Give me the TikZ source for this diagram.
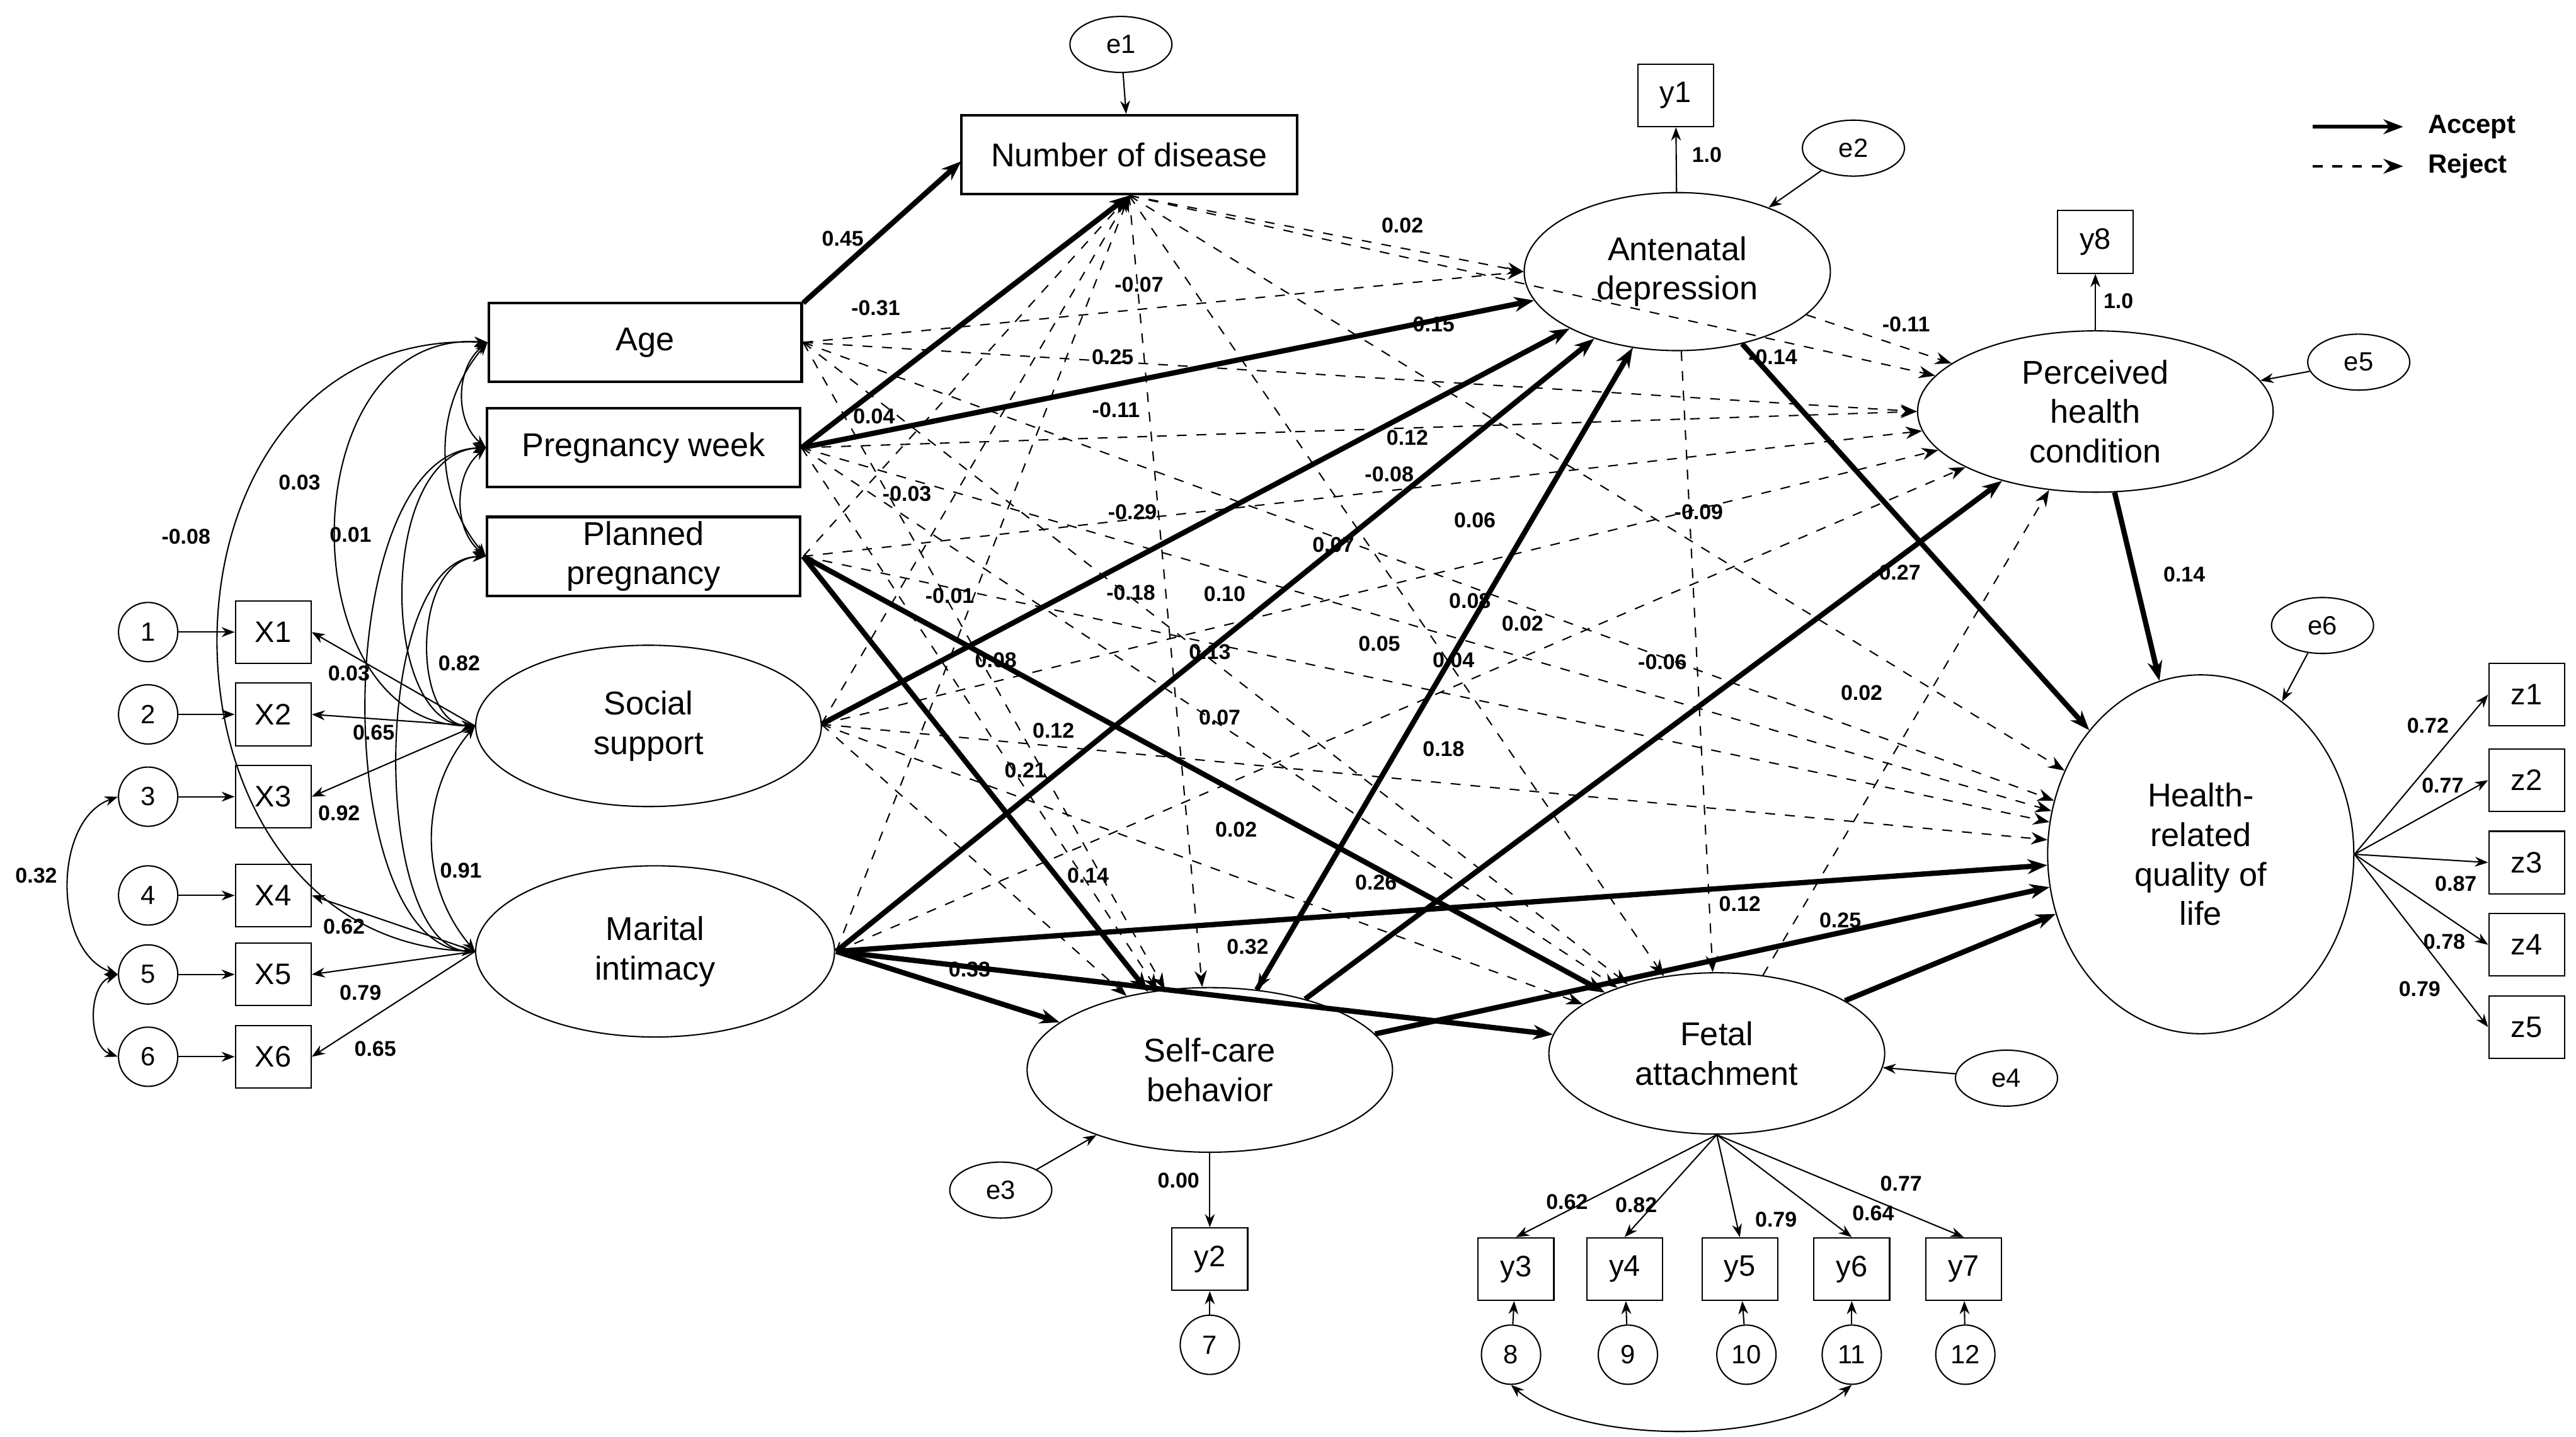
\documentclass[tikz,border=0pt]{standalone}
\usepackage{fontspec}
\setmainfont{Liberation Sans}
\usetikzlibrary{shapes.geometric,arrows.meta}
\begin{document}
\begin{tikzpicture}[x=0.5pt,y=-0.5pt,
 box/.style={draw,thick,minimum width=#1,minimum height=24pt,inner sep=1pt,font=\fontsize{10}{11}\selectfont},
 box/.default=95pt,
 ind/.style={draw,minimum width=23pt,minimum height=19pt,inner sep=0pt,font=\fontsize{9}{10}\selectfont},
 lat/.style={draw,ellipse,inner sep=0pt,align=center,font=\fontsize{10}{12}\selectfont},
 err/.style={draw,ellipse,minimum width=31pt,minimum height=17pt,inner sep=0pt,font=\fontsize{8}{9}\selectfont},
 cir/.style={draw,circle,minimum size=18pt,inner sep=0pt,font=\fontsize{8}{9}\selectfont},
 acc/.style={-{Stealth[length=6pt]},line width=1.6pt},
 rej/.style={-{Stealth[length=5pt]},dashed,thin},
 th/.style={-{Stealth[length=4pt]},thin},
 cor/.style={{Stealth[length=4pt]}-{Stealth[length=4pt]},thin},
 lb/.style={font=\bfseries\fontsize{6.5}{7}\selectfont,inner sep=0.5pt}]
\useasboundingbox (0,0) rectangle (1565,873);
% main nodes
\node[box=102pt] (nd) at (686,94) {Number of disease};
\node[box] (age) at (392,208) {Age};
\node[box] (pw) at (391,272) {Pregnancy week};
\node[box,align=center,font=\fontsize{10}{12}\selectfont] (pp) at (391,338) {Planned\\pregnancy};
\node[lat,minimum width=105pt,minimum height=49pt] (ss) at (394,441) {Social\\support};
\node[lat,minimum width=109pt,minimum height=52pt] (mi) at (398,578) {Marital\\intimacy};
\node[lat,minimum width=93pt,minimum height=48pt] (ad) at (1019,165) {Antenatal\\depression};
\node[lat,minimum width=108pt,minimum height=49pt] (ph) at (1273,250) {Perceived\\health\\condition};
\node[lat,minimum width=93pt,minimum height=109pt] (hq) at (1337,519) {Health-\\related\\quality of\\life};
\node[lat,minimum width=111pt,minimum height=50pt] (sc) at (735,650) {Self-care\\behavior};
\node[lat,minimum width=102pt,minimum height=49pt] (fa) at (1043,640) {Fetal\\attachment};
% errors
\node[err] (e1) at (681,27) {e1};
\node[err] (e2) at (1126,90) {e2};
\node[err] (e3) at (608,723) {e3};
\node[err] (e4) at (1219,655) {e4};
\node[err] (e5) at (1433,220) {e5};
\node[err] (e6) at (1411,380) {e6};
\draw[th] (e1) -- (nd);
\draw[th] (e2) -- (ad);
\draw[th] (e3) -- (sc);
\draw[th] (e4) -- (fa);
\draw[th] (e5) -- (ph);
\draw[th] (e6) -- (hq);
% indicators
\node[ind] (y1) at (1018,58) {y1};
\node[ind] (y8) at (1273,147) {y8};
\node[ind] (y2) at (735,765) {y2};
\node[cir] (c7) at (735,817) {7};
\draw[th] (ad) -- (y1); \node[lb] (l10a) at (1037,94) {1.0};
\draw[th] (ph) -- (y8); \node[lb] (l10b) at (1287,183) {1.0};
\draw[th] (sc) -- (y2); \node[lb] (l00) at (716,717) {0.00};
\draw[th] (c7) -- (y2);
\foreach \i/\y in {1/422,2/474,3/524,4/574,5/624}{
 \node[ind] (z\i) at (1535,\y) {z\i};
 \draw[th] (hq.east) -- (z\i.west);}
\node[lb] at (1475,441) {0.72};\node[lb] at (1484,477) {0.77};\node[lb] at (1492,537) {0.87};
\node[lb] at (1485,572) {0.78};\node[lb] at (1470,601) {0.79};
\foreach \i/\x/\cx/\n in {3/921/918/8,4/987/989/9,5/1057/1061/10,6/1125/1125/11,7/1193/1194/12}{
 \node[ind] (y\i) at (\x,771) {y\i};
 \draw[th] (fa.south) -- (y\i.north);
 \node[cir] (c\n) at (\cx,823) {\n};
 \draw[th] (c\n) -- (y\i);}
\draw[cor] (c8.south) .. controls (960,878) and (1080,878) .. (c11.south);
\node[lb] at (952,730) {0.62};\node[lb] at (994,732) {0.82};\node[lb] at (1079,741) {0.79};
\node[lb] at (1138,737) {0.64};\node[lb] at (1155,719) {0.77};
\foreach \i/\y in {1/384,2/434,3/484,4/544,5/592,6/642}{
 \node[ind] (x\i) at (166,\y) {X\i};
 \node[cir] (k\i) at (90,\y) {\i};
 \draw[th] (k\i) -- (x\i);}
\foreach \i in {1,2,3}{\draw[th] (ss.west) -- (x\i.east);}
\foreach \i in {4,5,6}{\draw[th] (mi.west) -- (x\i.east);}
\draw[cor] (k3.west) to[out=200,in=160] (k5.west);
\draw[cor] (k5.west) to[out=200,in=160] (k6.west);
\node[lb] at (22,532) {0.32};
\node[lb] at (212,409) {0.03};\node[lb] at (227,445) {0.65};\node[lb] at (206,494) {0.92};
\node[lb] at (209,563) {0.62};\node[lb] at (219,603) {0.79};\node[lb] at (228,637) {0.65};
% exogenous correlations
\draw[cor] (age.west) to[bend right=50] (pw.west);
\draw[cor] (pw.west) to[bend right=50] (pp.west);
\draw[cor] (age.west) to[bend right=40] (pp.west);
\draw[cor] (age.west) .. controls (175,200) and (175,440) .. (ss.west);
\draw[cor] (age.west) .. controls (80,200) and (80,570) .. (mi.west);
\draw[cor] (pw.west) .. controls (230,275) and (230,440) .. (ss.west);
\draw[cor] (pw.west) .. controls (200,275) and (200,575) .. (mi.west);
\draw[cor] (pp.west) .. controls (250,340) and (250,440) .. (ss.west);
\draw[cor] (pp.west) .. controls (225,340) and (225,575) .. (mi.west);
\draw[cor] (ss.west) to[bend right=40] (mi.west);
\node[lb] at (182,293) {0.03};\node[lb] at (113,326) {-0.08};\node[lb] at (213,325) {0.01};
\node[lb] at (279,403) {0.82};\node[lb] at (280,529) {0.91};
% structural paths
\coordinate (ae) at (488,208); \coordinate (pwe) at (487,272); \coordinate (ppe) at (488,338);
\coordinate (sse) at (499,440); \coordinate (mie) at (508,578);
\coordinate (aet) at (488,184); \coordinate (ndw) at (584,98);
\draw[acc] (aet) -- (ndw);
\draw[rej] (ae) -- (ad.west);
\draw[rej] (ae) -- (ph.west);
\draw[rej] (ae) -- (hq);
\draw[rej] (ae) -- (sc);
\draw[rej] (ae) -- (fa);
\draw[acc] (pwe) -- (nd.south);
\draw[acc] (pwe) -- (ad);
\draw[rej] (pwe) -- (ph.west);
\draw[rej] (pwe) -- (hq);
\draw[rej] (pwe) -- (sc);
\draw[rej] (pwe) -- (fa);
\draw[rej] (ppe) -- (nd.south);
\draw[rej] (ppe) -- (ph);
\draw[rej] (ppe) -- (hq);
\draw[acc] (ppe) -- (sc);
\draw[acc] (ppe) -- (fa);
\draw[rej] (sse) -- (nd.south);
\draw[acc] (sse) -- (ad);
\draw[rej] (sse) -- (ph);
\draw[rej] (sse) -- (hq);
\draw[rej] (sse) -- (sc);
\draw[rej] (sse) -- (fa);
\draw[rej] (mie) -- (nd.south);
\draw[acc] (mie) -- (ad);
\draw[rej] (mie) -- (ph);
\draw[acc] (mie) -- (hq);
\draw[acc] (mie) -- (sc);
\draw[acc] (mie) -- (fa);
\draw[rej] (nd.south) -- (ad.west);
\draw[rej] (nd.south) -- (ph);
\draw[rej] (nd.south) -- (hq);
\draw[rej] (nd.south) -- (sc);
\draw[rej] (nd.south) -- (fa);
\draw[rej] (ad) -- (ph);
\draw[acc] (ad) -- (hq);
\draw[rej] (ad) -- (sc);
\draw[rej] (ad) -- (fa);
\draw[acc] (sc) -- (ad);
\draw[acc] (sc) -- (ph);
\draw[acc] (sc) -- (hq);
\draw[acc] (fa) -- (hq);
\draw[rej] (fa) -- (ph);
\draw[acc] (ph) -- (hq);
% path labels
\foreach \t/\x/\y in {0.45/512/145,-0.31/532/187,0.02/852/137,-0.07/692/173,0.15/871/197,0.25/676/217,0.04/531/253,-0.11/678/249,0.12/855/266,-0.08/844/288,-0.03/551/300,-0.29/688/311,0.06/896/316,0.07/810/331,-0.09/1032/311,-0.27/1152/348,-0.01/577/362,-0.18/687/360,0.10/744/361,0.08/893/365,0.02/925/379,0.05/838/391,0.04/883/401,0.08/605/401,0.13/735/396,-0.06/1010/402,0.02/1131/421,0.07/741/436,0.12/640/444,0.18/877/455,0.21/623/468,0.02/751/504,0.14/661/532,0.26/836/536,0.12/1057/549,0.25/1118/559,0.33/589/589,0.32/758/575,-0.14/1077/217,-0.11/1158/197,0.14/1327/349}
 {\node[lb] at (\x,\y) {\t};}
% legend
\coordinate (la1) at (1405,77); \coordinate (la2) at (1460,77);
\coordinate (lr1) at (1405,101); \coordinate (lr2) at (1460,101);
\draw[-{Stealth[length=6pt]},line width=1.2pt] (la1) -- (la2);
\draw[-{Stealth[length=6pt]},dashed,line width=0.9pt] (lr1) -- (lr2);
\node[anchor=west,font=\bfseries\fontsize{8}{9}\selectfont] (lacc) at (1468,77) {Accept};
\node[anchor=west,font=\bfseries\fontsize{8}{9}\selectfont] (lrej) at (1468,101) {Reject};
\end{tikzpicture}
\end{document}
